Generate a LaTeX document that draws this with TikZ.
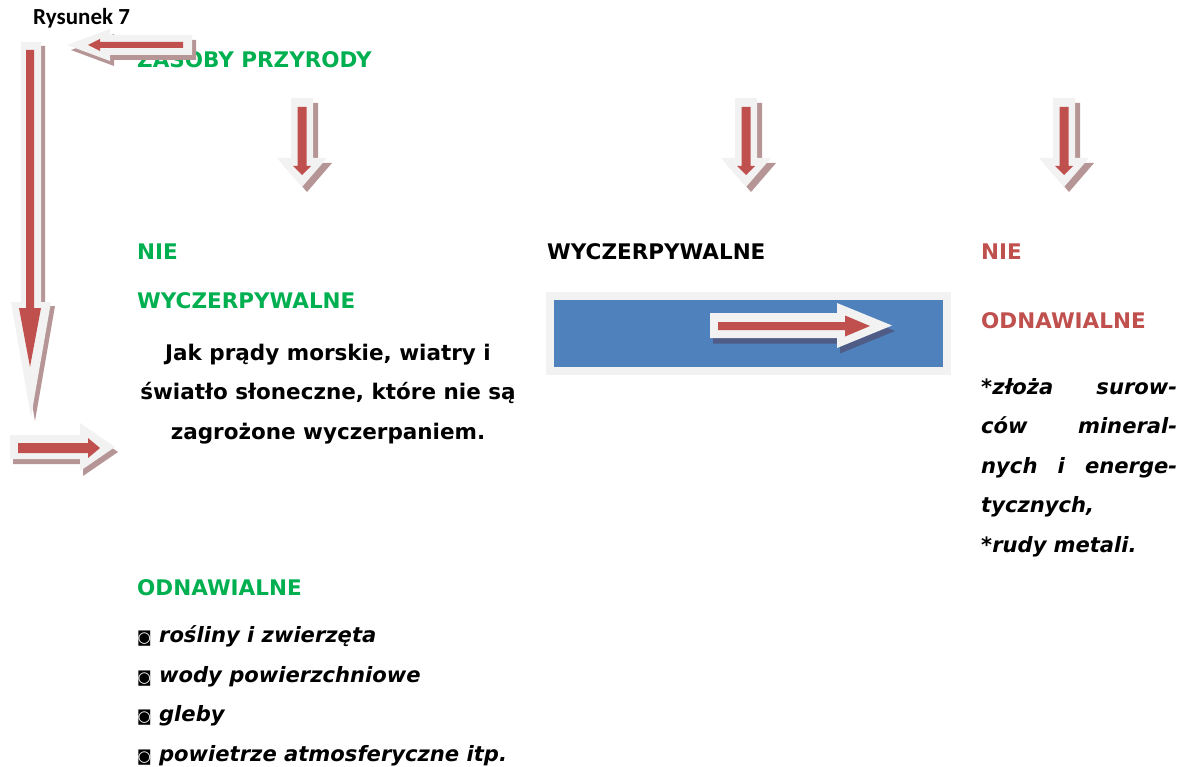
\documentclass[tikz,border=0pt]{standalone}
\usepackage{fontspec}
\setmainfont{DejaVu Sans}
\newfontfamily\calibri{Carlito}
\definecolor{zielony}{HTML}{00B050}
\definecolor{czerwony}{HTML}{C0504D}
\definecolor{jasny}{HTML}{F2F2F2}
\definecolor{cien}{HTML}{B59595}
\definecolor{cienb}{HTML}{4E5C86}
\definecolor{niebieski}{HTML}{4F81BD}
% block arrow: shaft length, shaft half width, head length, head half width
\def\blkarrow#1#2#3#4{(0,-#2) -- (#1,-#2) -- (#1,-#4) -- ++(#3,#4) -- (#1,#4) -- (#1,#2) -- (0,#2) -- cycle}
\def\kropka{{\upshape\mdseries\fontsize{15}{15}\selectfont ◙}}

\begin{document}
\begin{tikzpicture}[x=1pt, y=-1pt,
    every node/.style={inner sep=0pt, anchor=base west, font=\bfseries\fontsize{21.5}{39.5}\selectfont},
    zielone/.style={text=zielony},
    czerwone/.style={text=czerwony},
    kursywa/.style={font=\bfseries\itshape\fontsize{21.1}{39.5}\selectfont}]
    \useasboundingbox (0,0) rectangle (1185,767);

    % texts
    \node[font=\calibri\bfseries\fontsize{23}{25}\selectfont] (rys) at (33,25) {Rysunek 7};
    \node[zielone] (zasoby) at (137,68) {ZASOBY PRZYRODY};
    \node[zielone] (nie1) at (137,260) {NIE};
    \node[zielone] (wycz1) at (137,308) {WYCZERPYWALNE};
    \node[align=center, anchor=base] (opis) at (328,439) {Jak prądy morskie, wiatry i\\ światło słoneczne, które nie są\\ zagrożone wyczerpaniem.};
    \node (wycz2) at (547,260) {WYCZERPYWALNE};
    \node[czerwone] (nie2) at (981,260) {NIE};
    \node[czerwone] (odn2) at (981,328) {ODNAWIALNE};
    \node[kursywa, text width=196pt, align=left] (zloza) at (981,394)
        {{*}złoża\hfill surow-\\ ców\hfill mineral-\\ nych\hfill i\hfill energe-\\ tycznych,\\ {*}rudy metali.};
    \node[zielone] (odn1) at (137,595) {ODNAWIALNE};
    \node[kursywa, align=left] (lista) at (137,761)
        {\kropka{} rośliny i zwierzęta\\ \kropka{} wody powierzchniowe\\ \kropka{} gleby\\ \kropka{} powietrze atmosferyczne itp.};

    % blue box
    \node[fill=niebieski, draw=jasny, line width=8pt, minimum width=397pt, minimum height=75pt, anchor=center] (pasek) at (748.5,333.5) {};

    % arrows
    \fill[cien, shift={(196,50)}, rotate=180] \blkarrow{82}{10}{43}{16};
    \fill[jasny, shift={(192,45)}, rotate=180] \blkarrow{82}{10}{43}{16};
    \fill[czerwony, shift={(183,45)}, rotate=180] \blkarrow{83}{3}{12}{6};

    \foreach \ax in {302,746,1064}{
        \fill[cien, shift={(\ax+5,103)}, rotate=-90] \blkarrow{60}{11}{29}{25};
        \fill[jasny, shift={(\ax,98)}, rotate=-90] \blkarrow{60}{11}{29}{25};
        \fill[czerwony, shift={(\ax,107)}, rotate=-90] \blkarrow{59}{4.5}{9}{9};
    }

    \fill[cien, shift={(35,46)}, rotate=-90] \blkarrow{260}{10}{115}{20};
    \fill[jasny, shift={(31,42)}, rotate=-90] \blkarrow{260}{10}{115}{20};
    \fill[czerwony, shift={(30,50)}, rotate=-90] \blkarrow{258}{4}{59}{11};

    \fill[cien, shift={(13,452)}, rotate=0] \blkarrow{70}{12}{35}{24};
    \fill[jasny, shift={(10,447)}, rotate=0] \blkarrow{70}{12}{35}{24};
    \fill[czerwony, shift={(18,448)}, rotate=0] \blkarrow{70}{5}{12}{10};

    \fill[cienb, shift={(713,331)}] \blkarrow{127}{12.5}{55}{22.5};
    \fill[jasny, shift={(710,325.5)}] \blkarrow{127}{12.5}{55}{22.5};
    \fill[czerwony, shift={(718,326)}] \blkarrow{127}{4}{25}{10.5};
\end{tikzpicture}
\end{document}
